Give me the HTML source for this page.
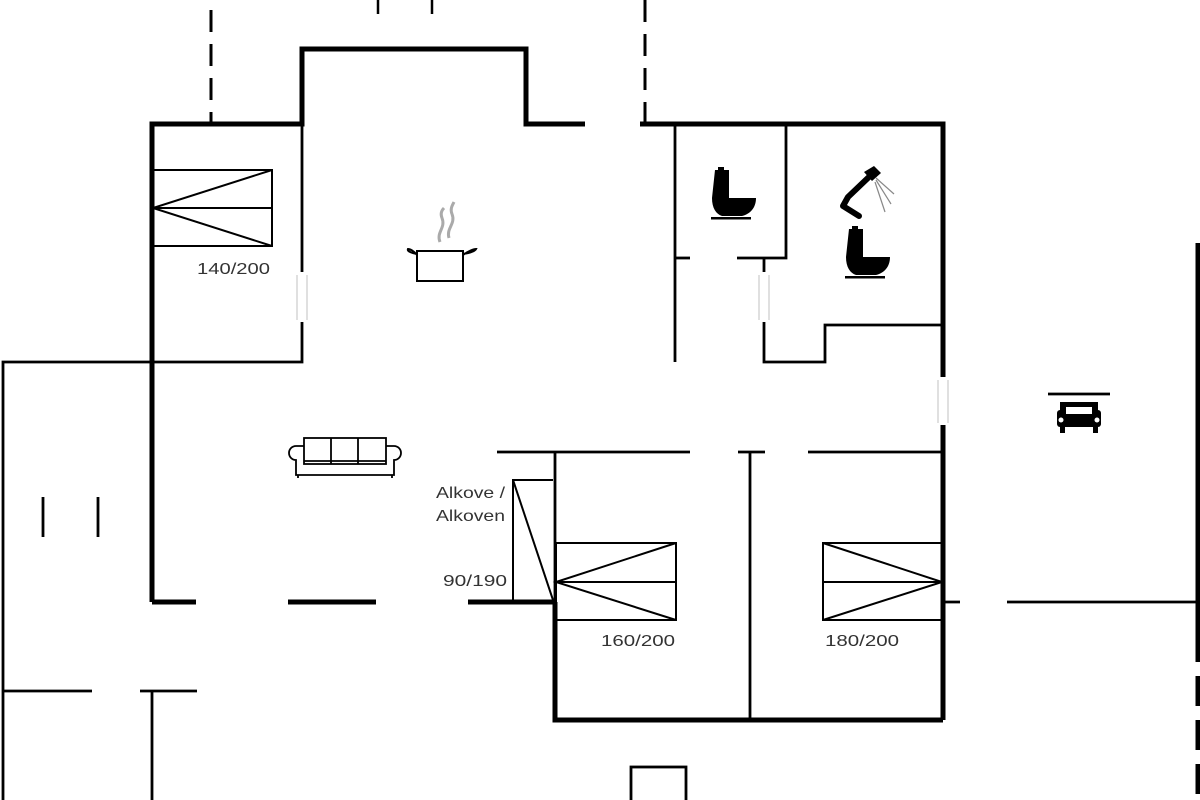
<!DOCTYPE html>
<html><head><meta charset="utf-8"><style>
html,body{margin:0;padding:0;background:#fff;}
svg{display:block;}
text{font-family:"Liberation Sans",sans-serif;fill:#333;}
</style></head><body>
<svg width="1200" height="800" viewBox="0 0 1200 800" xmlns="http://www.w3.org/2000/svg">
<defs>
<g id="toilet">
<path d="M3 0 h14 v28 h27 c0 10 -6 16 -14 18 h-20 c-6 -2 -10 -8 -10 -18 z" fill="#000"/>
<rect x="6" y="-3" width="6" height="4" fill="#000"/>
<rect x="-1" y="47" width="40" height="2.5" fill="#000"/>
</g>
</defs>
<g fill="none" stroke="#000" stroke-linecap="butt">
<line x1="211" y1="10" x2="211" y2="124" stroke-width="3" stroke-dasharray="22,12"/>
<line x1="645" y1="0" x2="645" y2="124" stroke-width="3" stroke-dasharray="22,12"/>
<line x1="378" y1="0" x2="378" y2="14" stroke-width="2.5"/>
<line x1="432" y1="0" x2="432" y2="14" stroke-width="2.5"/>
<g stroke-width="5">
<polyline points="152,602 152,124 302,124 302,49 526,49 526,124 585,124"/>
<polyline points="640,124 943,124 943,377"/>
<line x1="943" y1="425" x2="943" y2="720"/>
<line x1="152" y1="602" x2="196" y2="602"/>
<line x1="288" y1="602" x2="376" y2="602"/>
<line x1="468" y1="602" x2="555" y2="602"/>
<polyline points="555,602 555,720 943,720"/>
<line x1="1198" y1="243" x2="1198" y2="632"/>
<line x1="1198" y1="632" x2="1198" y2="800" stroke-dasharray="30,14"/>
</g>
<g stroke-width="2.8">
<polyline points="3,800 3,362 302,362 302,322"/>
<line x1="302" y1="272" x2="302" y2="124"/>
<line x1="675" y1="124" x2="675" y2="362"/>
<line x1="675" y1="258" x2="690" y2="258"/>
<polyline points="737,258 786,258 786,124"/>
<line x1="764" y1="258" x2="764" y2="272"/>
<polyline points="764,322 764,362 825,362 825,325 943,325"/>
<line x1="497" y1="452" x2="690" y2="452"/>
<line x1="738" y1="452" x2="765" y2="452"/>
<line x1="808" y1="452" x2="943" y2="452"/>
<line x1="555" y1="452" x2="555" y2="602"/>
<line x1="750" y1="452" x2="750" y2="720"/>
<line x1="943" y1="602" x2="960" y2="602"/>
<line x1="1007" y1="602" x2="1198" y2="602"/>
<line x1="43" y1="497" x2="43" y2="537"/>
<line x1="98" y1="497" x2="98" y2="537"/>
<line x1="3" y1="691" x2="92" y2="691"/>
<line x1="140" y1="691" x2="197" y2="691"/>
<line x1="152" y1="691" x2="152" y2="800"/>
<line x1="1048" y1="394" x2="1110" y2="394"/>
<rect x="631" y="767" width="55" height="40"/>
</g>
<g stroke="#ccc" stroke-width="1.2">
<line x1="297" y1="275" x2="297" y2="320"/><line x1="307" y1="275" x2="307" y2="320"/>
<line x1="759" y1="275" x2="759" y2="320"/><line x1="769" y1="275" x2="769" y2="320"/>
<line x1="938" y1="380" x2="938" y2="423"/><line x1="948" y1="380" x2="948" y2="423"/>
</g>
<g stroke-width="2">
<rect x="153" y="170" width="119" height="76"/>
<line x1="153" y1="208" x2="272" y2="208"/>
<polyline points="272,170 153,208 272,246"/>
<rect x="556" y="543" width="120" height="77"/>
<line x1="556" y1="582" x2="676" y2="582"/>
<polyline points="676,543 556,582 676,620"/>
<rect x="823" y="543" width="119" height="77"/>
<line x1="823" y1="582" x2="942" y2="582"/>
<polyline points="823,543 942,582 823,620"/>
<polyline points="553,480 513,480 513,600"/>
<line x1="513" y1="480" x2="553" y2="600"/>
</g>
<g stroke-width="2">
<path d="M417 251 h46 v30 h-46 z"/>
<path d="M417 254 c-6 -1 -10 -3 -9 -5 c2 0 6 2 9 6"/>
<path d="M463 254 c6 -1 12 -3 13 -5 c-2 0 -8 2 -13 6"/>
</g>
<g stroke="#aaa" stroke-width="3">
<path d="M440 242 c-4 -10 6 -14 2 -24 c-2 -5 0 -8 2 -10"/>
<path d="M449 238 c-3 -10 7 -14 3 -24 c-2 -5 0 -8 2 -12"/>
</g>
<g stroke-width="1.8">
<path d="M304 446 h-8 a7 7 0 0 0 0 14 v15 h98 v-15 a7 7 0 0 0 0 -14 h-8"/>
<rect x="304" y="438" width="82" height="26"/>
<line x1="331" y1="438" x2="331" y2="464"/>
<line x1="358" y1="438" x2="358" y2="464"/>
<line x1="304" y1="461" x2="386" y2="461"/>
<line x1="298" y1="475" x2="298" y2="478"/><line x1="392" y1="475" x2="392" y2="478"/>
</g>
<path d="M870 176 L848 197 L843 206 L859 216" stroke-width="6" stroke-linejoin="round" stroke-linecap="round"/>
<g stroke="#888" stroke-width="1.2"><line x1="876" y1="178" x2="894" y2="194"/><line x1="876" y1="180" x2="891" y2="204"/><line x1="875" y1="182" x2="885" y2="212"/></g>
</g>
<path d="M864 172 l10 -6 l7 7 l-9 8 z" fill="#000"/>
<use href="#toilet" x="712" y="170"/>
<use href="#toilet" x="846" y="229"/>
<g fill="#000">
<rect x="1060" y="402" width="38" height="8"/>
<rect x="1057" y="410" width="44" height="17" rx="3"/>
<rect x="1060" y="425" width="5" height="8"/>
<rect x="1093" y="425" width="5" height="8"/>
</g>
<rect x="1066" y="407" width="26" height="7" fill="#fff"/>
<circle cx="1061" cy="420" r="2.5" fill="#fff"/><circle cx="1097" cy="420" r="2.5" fill="#fff"/>
<g font-size="16">
<text x="197" y="274" textLength="73" lengthAdjust="spacingAndGlyphs">140/200</text>
<text x="601" y="646" textLength="74" lengthAdjust="spacingAndGlyphs">160/200</text>
<text x="825" y="646" textLength="74" lengthAdjust="spacingAndGlyphs">180/200</text>
<text x="436" y="498" textLength="69" lengthAdjust="spacingAndGlyphs">Alkove /</text>
<text x="436" y="521" textLength="69" lengthAdjust="spacingAndGlyphs">Alkoven</text>
<text x="443" y="586" textLength="64" lengthAdjust="spacingAndGlyphs">90/190</text>
</g>
</svg>
</body></html>
